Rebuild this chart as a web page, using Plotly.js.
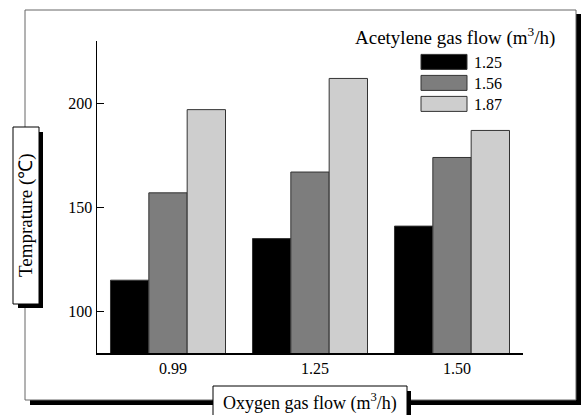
<!DOCTYPE html>
<html><head><meta charset="utf-8">
<script src="https://cdn.plot.ly/plotly-3.0.1.min.js"></script>
<style>html,body{margin:0;padding:0;background:#fff}</style>
</head><body><div id="chart" style="width:581px;height:415px"></div>
<script>
// ---- data ----
const oxygenFlow = ['0.99', '1.25', '1.50'];
const acetyleneFlow = ['1.25', '1.56', '1.87'];
const temp_125 = [115, 135, 141];
const temp_156 = [157, 167, 174];
const temp_187 = [197, 212, 187];
const yTickVals = [100, 150, 200];

// ---- helpers (pixel -> paper) ----
const W = 581, H = 415;
const px = x => x / W;
const py = y => 1 - y / H;
const FONT = 'Liberation Serif, Times New Roman, serif';

const lineStyle = {color: '#333', width: 1};
const traces = [
  {type: 'bar', name: acetyleneFlow[0], x: oxygenFlow, y: temp_125,
   marker: {color: '#000000', line: lineStyle}},
  {type: 'bar', name: acetyleneFlow[1], x: oxygenFlow, y: temp_156,
   marker: {color: '#7f7f7f', line: lineStyle,
            pattern: {shape: '.', fgcolor: '#727272', bgcolor: '#848484', size: 2, solidity: 0.4}}},
  {type: 'bar', name: acetyleneFlow[2], x: oxygenFlow, y: temp_187,
   marker: {color: '#d4d4d4', line: lineStyle,
            pattern: {shape: '.', fgcolor: '#b4b4b4', bgcolor: '#e0e0e0', size: 2, solidity: 0.45}}}
];

const rect = (x0, y0, x1, y1, fill, line) => ({
  type: 'rect', xref: 'paper', yref: 'paper', layer: 'above',
  x0: px(x0), x1: px(x1), y0: py(y1), y1: py(y0),
  fillcolor: fill || 'rgba(0,0,0,0)', line: line || {width: 0}
});

const ann = (text, x, y, size, angle) => ({
  text: text, xref: 'paper', yref: 'paper', x: px(x), y: py(y),
  xanchor: 'center', yanchor: 'middle', showarrow: false,
  textangle: angle || 0, font: {family: FONT, size: size, color: '#000'}
});

const layout = {
  width: W, height: H,
  margin: {l: 0, r: 0, t: 0, b: 0},
  paper_bgcolor: '#fff', plot_bgcolor: '#fff',
  font: {family: FONT, color: '#000', size: 16},
  barmode: 'group', bargap: 0.19, bargroupgap: 0,
  showlegend: true,
  legend: {x: px(414), y: py(45), xanchor: 'left', yanchor: 'top',
           font: {family: FONT, size: 16}, itemwidth: 50, tracegroupgap: 0,
           bgcolor: 'rgba(0,0,0,0)'},
  xaxis: {type: 'category', domain: [px(97), px(523)], range: [-0.5, 2.5],
          showline: true, linecolor: '#000', linewidth: 1.5, ticks: '',
          showgrid: false, zeroline: false, ticklabelshift: 5,
          tickfont: {family: FONT, size: 16}},
  yaxis: {domain: [py(353), py(41)], range: [80, 230],
          tickvals: yTickVals, ticktext: yTickVals.map(String),
          showline: true, linecolor: '#000', linewidth: 1.5,
          ticks: 'inside', ticklen: 7, tickwidth: 1.5, tickcolor: '#000',
          showgrid: false, zeroline: false,
          tickfont: {family: FONT, size: 16}},
  shapes: [
    // outer frame and its shadow
    rect(576, 14, 581, 405, '#000'),
    rect(30, 400, 581, 405, '#000'),
    rect(25, 10, 576, 400, null, {color: '#666', width: 1}),
    // y title box
    rect(18, 132, 43, 308, '#000'),
    rect(13, 127, 39, 304, '#fff', {color: '#000', width: 1}),
    // x title box
    rect(218, 391, 411, 425, '#000'),
    rect(213, 386, 407, 425, '#fff', {color: '#000', width: 1})
  ],
  annotations: [
    ann('Acetylene gas flow (m<sup>3</sup>/h)', 455, 36, 19),
    ann('Temprature (\u2103)', 26, 215, 19, -90),
    ann('Oxygen gas flow (m<sup>3</sup>/h)', 310, 402, 18)
  ]
};

Plotly.newPlot('chart', traces, layout, {staticPlot: true, displayModeBar: false}).then(gd => {
  gd.querySelectorAll('.legend .traces .legendpoints path').forEach(p => {
    p.setAttribute('d', 'M-23,-7.5H23V7.5H-23Z');
  });
  const groups = gd.querySelectorAll('.legend .traces');
  let y0 = null, x0 = 0;
  groups.forEach((g, i) => {
    const m = /translate\(([-\d.]+)[ ,]+([-\d.]+)\)/.exec(g.getAttribute('transform') || '');
    if (!m) return;
    if (y0 === null) { y0 = parseFloat(m[2]); x0 = parseFloat(m[1]); }
    g.setAttribute('transform', 'translate(' + x0 + ',' + (y0 + i * 21) + ')');
  });
});
</script></body></html>
